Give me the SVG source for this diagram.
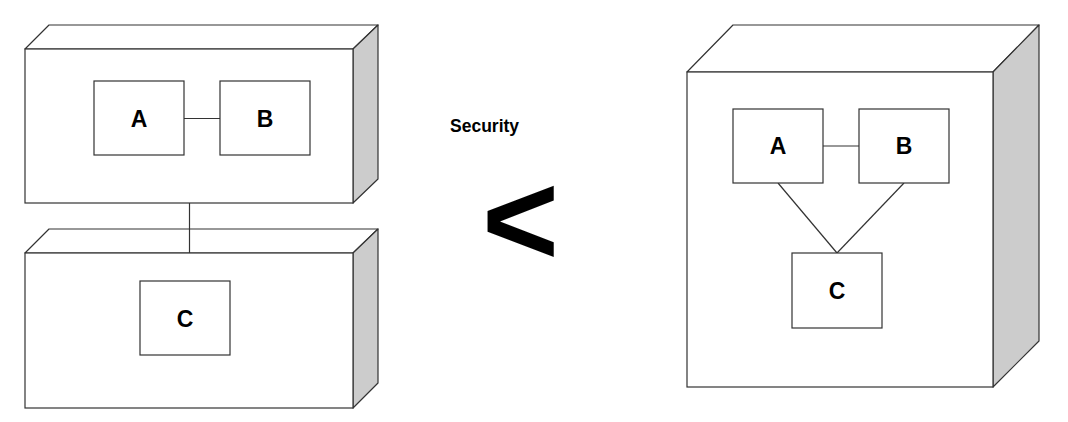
<svg xmlns="http://www.w3.org/2000/svg" width="1068" height="422" viewBox="0 0 1068 422">
<style>
.front{fill:#ffffff;stroke:#333333;stroke-width:1.2}
.top{fill:#ffffff;stroke:#333333;stroke-width:1.2;stroke-linejoin:round}
.side{fill:#cccccc;stroke:#333333;stroke-width:1.2;stroke-linejoin:round}
.box{fill:#ffffff;stroke:#333333;stroke-width:1.2}
.lbl{font-family:"Liberation Sans",Arial,sans-serif;font-weight:bold;font-size:23px;text-anchor:middle;fill:#000}
.conn{stroke:#333333;stroke-width:1.2;fill:none}
</style>
<rect width="1068" height="422" fill="#ffffff"/>
<g id="node-left-top">
<polygon class="top" points="25,49 49,25 378,25 353,49"/>
<polygon class="side" points="353,49 378,25 378,179 353,203"/>
<rect class="front" x="25" y="49" width="328" height="154"/>
</g>
<g id="node-left-bottom">
<polygon class="top" points="25,253 49,229 378,229 353,253"/>
<polygon class="side" points="353,253 378,229 378,383 353,408"/>
<rect class="front" x="25" y="253" width="328" height="155"/>
</g>
<g id="node-right">
<polygon class="top" points="687,72 733,25 1039,25 993,72"/>
<polygon class="side" points="993,72 1039,25 1039,341 993,387"/>
<rect class="front" x="687" y="72" width="306" height="315"/>
</g>
<g id="connectors">
<line class="conn" x1="184" y1="118.5" x2="220" y2="118.5"/>
<line class="conn" x1="189.5" y1="203" x2="189.5" y2="253"/>
<line class="conn" x1="823" y1="146" x2="859" y2="146"/>
<line class="conn" x1="778" y1="183" x2="837" y2="253"/>
<line class="conn" x1="904" y1="183" x2="837" y2="253"/>
</g>
<g id="comp-left-A">
<rect class="box" x="94" y="81" width="90" height="74"/>
<text class="lbl" x="139" y="127">A</text>
</g>
<g id="comp-left-B">
<rect class="box" x="220" y="81" width="90" height="74"/>
<text class="lbl" x="265" y="127">B</text>
</g>
<g id="comp-left-C">
<rect class="box" x="140" y="281" width="90" height="74"/>
<text class="lbl" x="185" y="327">C</text>
</g>
<g id="comp-right-A">
<rect class="box" x="733" y="109" width="90" height="74"/>
<text class="lbl" x="778" y="154">A</text>
</g>
<g id="comp-right-B">
<rect class="box" x="859" y="109" width="90" height="74"/>
<text class="lbl" x="904" y="154">B</text>
</g>
<g id="comp-right-C">
<rect class="box" x="792" y="253" width="90" height="75"/>
<text class="lbl" x="837" y="299">C</text>
</g>
<g id="security">
<text x="450" y="132" font-family="Liberation Sans, Arial, sans-serif" font-weight="bold" font-size="17.5" fill="#000">Security</text>
<text x="482" y="265" font-family="Liberation Sans, Arial, sans-serif" font-weight="bold" font-size="132" fill="#000">&lt;</text>
</g>
</svg>
